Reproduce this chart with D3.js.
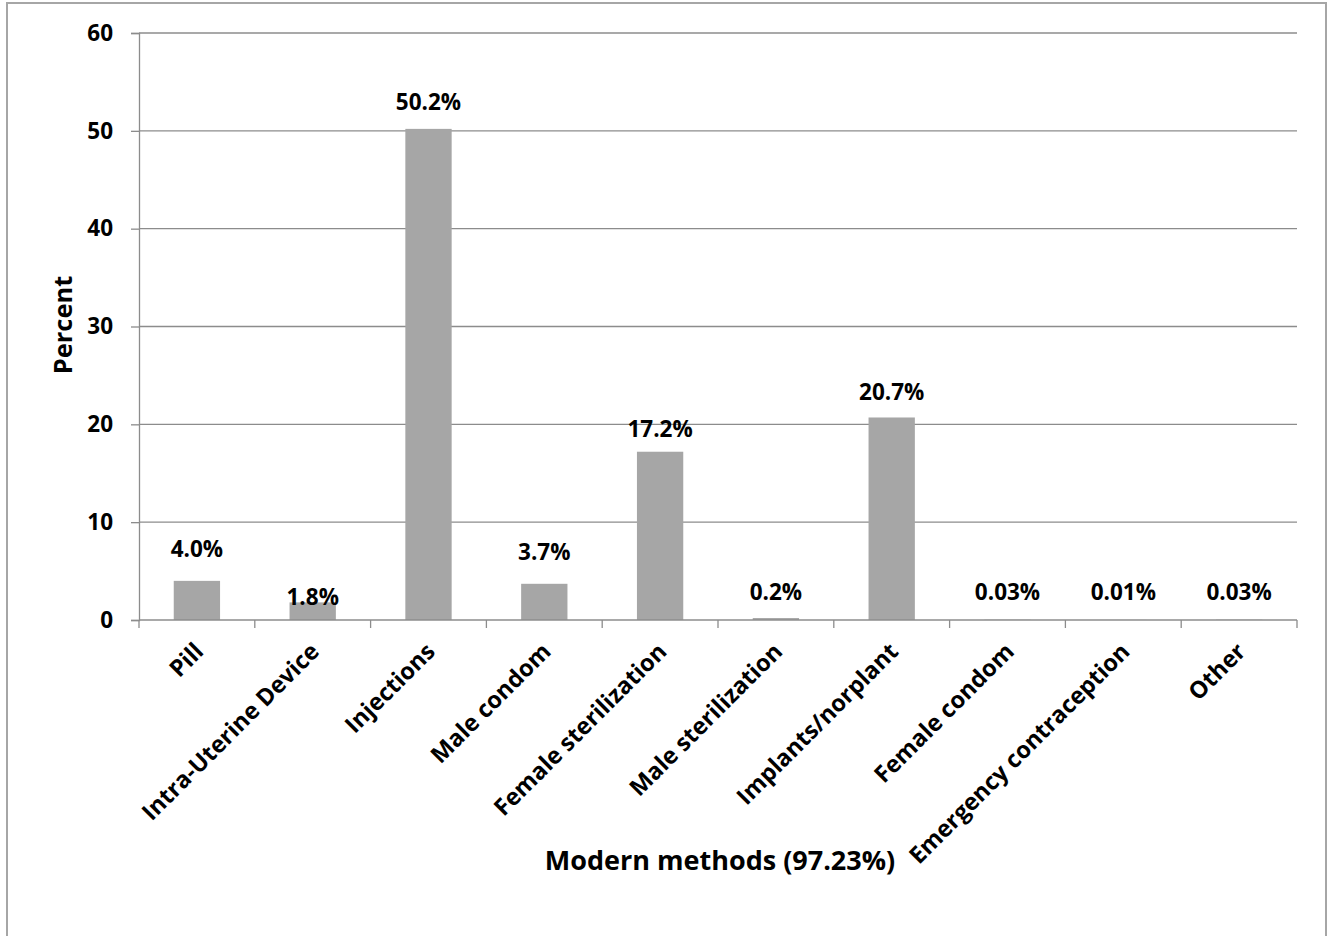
<!DOCTYPE html>
<html>
<head>
<meta charset="utf-8">
<script src="https://cdn.jsdelivr.net/npm/d3@7"></script>
<style>
  html, body { margin: 0; padding: 0; background: #fff; }
  svg text { font-family: "Open Sans", "Liberation Sans", sans-serif; font-weight: 700; fill: #000; }
</style>
</head>
<body>
<svg id="chart" width="1331" height="936"></svg>
<script>
// Contraceptive method mix among modern method users
const categories = ["Pill", "Intra-Uterine Device", "Injections", "Male condom", "Female sterilization",
                    "Male sterilization", "Implants/norplant", "Female condom", "Emergency contraception", "Other"];
const values = [4.0, 1.8, 50.2, 3.7, 17.2, 0.2, 20.7, 0.03, 0.01, 0.03];
const valueLabels = ["4.0%", "1.8%", "50.2%", "3.7%", "17.2%", "0.2%", "20.7%", "0.03%", "0.01%", "0.03%"];
const yTicks = [0, 10, 20, 30, 40, 50, 60];

// vertical lift (px) of each value label above its bar top
const labelLift = [24, -3, 19, 24, 15, 18, 17, 20, 20, 20];

const svg = d3.select("#chart");
const plot = { left: 139, right: 1297, top: 33, bottom: 620 };

// outer chart frame
svg.append("rect")
  .attr("x", 7).attr("y", 3).attr("width", 1319).attr("height", 950)
  .attr("fill", "#fff").attr("stroke", "#a6a6a6").attr("stroke-width", 2);

const x = d3.scaleBand().domain(categories).range([plot.left, plot.right])
  .paddingInner(0.6).paddingOuter(0.3);
const y = d3.scaleLinear().domain([0, 60]).range([plot.bottom, plot.top]);

// horizontal gridlines
svg.append("g").selectAll("line").data(yTicks.filter(d => d > 0)).join("line")
  .attr("x1", plot.left).attr("x2", plot.right)
  .attr("y1", d => y(d)).attr("y2", d => y(d))
  .attr("stroke", "#8c8c8c").attr("stroke-width", 1.3);

// bars
svg.append("g").selectAll("rect").data(values).join("rect")
  .attr("x", (d, i) => x(categories[i]))
  .attr("width", x.bandwidth())
  .attr("y", d => y(d))
  .attr("height", d => y(0) - y(d))
  .attr("fill", "#a6a6a6");

// y axis
const yAxis = d3.axisLeft(y).tickValues(yTicks).tickSize(8).tickPadding(18).tickFormat(d3.format("d"));
const gy = svg.append("g").attr("transform", `translate(${plot.left},0)`).call(yAxis);
gy.select(".domain").attr("stroke", "#8c8c8c").attr("stroke-width", 1.3);
gy.selectAll(".tick line").attr("stroke", "#8c8c8c").attr("stroke-width", 1.3);
gy.selectAll(".tick text").attr("font-size", 22.5).attr("font-family", null);

// x axis baseline with ticks at category boundaries
const boundaries = d3.range(categories.length + 1).map(i => plot.left + i * (plot.right - plot.left) / categories.length);
svg.append("line")
  .attr("x1", plot.left).attr("x2", plot.right)
  .attr("y1", y(0)).attr("y2", y(0))
  .attr("stroke", "#8c8c8c").attr("stroke-width", 1.3);
svg.append("g").selectAll("line").data(boundaries).join("line")
  .attr("x1", d => d).attr("x2", d => d)
  .attr("y1", y(0)).attr("y2", y(0) + 8)
  .attr("stroke", "#8c8c8c").attr("stroke-width", 1.3);

// rotated category labels
svg.append("g").selectAll("text").data(categories).join("text")
  .attr("transform", d => `translate(${x(d) + x.bandwidth() / 2 - 4},${y(0) + 21}) rotate(-45)`)
  .attr("text-anchor", "end")
  .attr("dy", "0.72em")
  .attr("font-size", 23.5)
  .text(d => d);

// value labels
svg.append("g").selectAll("text").data(values).join("text")
  .attr("x", (d, i) => x(categories[i]) + x.bandwidth() / 2)
  .attr("y", (d, i) => y(d) - labelLift[i])
  .attr("text-anchor", "middle")
  .attr("font-size", 22.5)
  .text((d, i) => valueLabels[i]);

// axis titles
svg.append("text")
  .attr("x", 720).attr("y", 870)
  .attr("text-anchor", "middle")
  .attr("font-size", 27)
  .text("Modern methods (97.23%)");

svg.append("text")
  .attr("transform", "translate(72,325) rotate(-90)")
  .attr("text-anchor", "middle")
  .attr("font-size", 25.5)
  .text("Percent");
</script>
</body>
</html>
